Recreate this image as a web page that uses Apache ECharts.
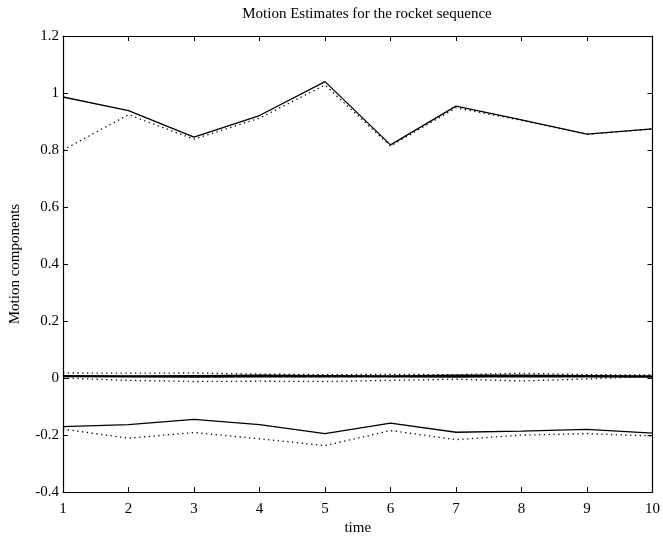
<!DOCTYPE html>
<html>
<head>
<meta charset="utf-8">
<script src="https://cdn.jsdelivr.net/npm/echarts@6/dist/echarts.min.js"></script>
<style>html,body{margin:0;padding:0;background:#fff;}#c{width:663px;height:541px;}</style>
</head>
<body>
<div id="c"></div>
<script>
var times = [1,2,3,4,5,6,7,8,9,10];
var topSolid  = [0.986,0.938,0.845,0.921,1.040,0.818,0.954,0.906,0.856,0.874];
var topDotted = [0.800,0.924,0.838,0.912,1.028,0.814,0.948,0.904,0.855,0.874];
var zeroSolidA = [0.006,0.005,0.004,0.005,0.006,0.005,0.004,0.006,0.005,0.004];
var zeroSolidB = [0.008,0.007,0.008,0.009,0.008,0.007,0.009,0.009,0.008,0.007];
var zeroDottedUp = [0.018,0.017,0.018,0.014,0.012,0.013,0.012,0.017,0.012,0.011];
var zeroDottedLow = [0.000,-0.008,-0.012,-0.011,-0.012,-0.008,-0.004,-0.010,-0.003,0.006];
var lowSolid  = [-0.170,-0.163,-0.145,-0.163,-0.195,-0.158,-0.190,-0.186,-0.180,-0.193];
var lowDotted = [-0.179,-0.211,-0.191,-0.213,-0.237,-0.184,-0.216,-0.200,-0.195,-0.203];
var yTicks = [-0.4,-0.2,0,0.2,0.4,0.6,0.8,1,1.2];

function pts(arr){ return times.map(function(t,i){ return [t, arr[i]]; }); }
function ser(arr, dotted, w){
  return {type:'line', data:pts(arr), symbol:'none', xAxisIndex:0, yAxisIndex:0,
    lineStyle:{color:'#000', width: w || 1.3, type: dotted?[1.3,3.5]:'solid'}, z: dotted?2:3, animation:false};
}
var font = 'Liberation Serif';
var chart = echarts.init(document.getElementById('c'));
chart.setOption({
  backgroundColor:'#fff',
  animation:false,
  title:{text:'Motion Estimates for the rocket sequence', left:362, top:2, textAlign:'center',
    textStyle:{fontFamily:font, fontSize:15, fontWeight:'normal', color:'#000'}},
  grid:{left:63, right:8, top:36, bottom:41},
  xAxis:[
    {type:'value', min:1, max:10, interval:1, position:'bottom',
     name:'time', nameLocation:'middle', nameGap:25,
     nameTextStyle:{fontFamily:font, fontSize:15, color:'#000'},
     axisLine:{onZero:false, lineStyle:{color:'#000', width:1.2}},
     axisTick:{inside:true, length:5, lineStyle:{color:'#000'}},
     axisLabel:{fontFamily:font, fontSize:15, color:'#000', margin:9},
     splitLine:{show:false}},
    {type:'value', min:1, max:10, interval:1, position:'top',
     axisLine:{onZero:false, lineStyle:{color:'#000', width:1.2}},
     axisTick:{inside:true, length:5, lineStyle:{color:'#000'}},
     axisLabel:{show:false}, splitLine:{show:false}}
  ],
  yAxis:[
    {type:'value', min:-0.4, max:1.2, interval:0.2, position:'left',
     name:'Motion components', nameLocation:'middle', nameGap:40,
     nameTextStyle:{fontFamily:font, fontSize:15, color:'#000'},
     axisLine:{onZero:false, lineStyle:{color:'#000', width:1.2}},
     axisTick:{inside:true, length:5, lineStyle:{color:'#000'}},
     axisLabel:{fontFamily:font, fontSize:15, color:'#000', margin:4,
       formatter:function(v){ var r=Math.round(v*10)/10; return String(r); }},
     splitLine:{show:false}},
    {type:'value', min:-0.4, max:1.2, interval:0.2, position:'right',
     axisLine:{onZero:false, lineStyle:{color:'#000', width:1.2}},
     axisTick:{inside:true, length:5, lineStyle:{color:'#000'}},
     axisLabel:{show:false}, splitLine:{show:false}}
  ],
  series:[
    ser(topDotted,true), ser(topSolid,false),
    ser(zeroDottedUp,true), ser(zeroDottedLow,true),
    ser(zeroSolidA,false,1.8), ser(zeroSolidB,false,1.8),
    ser(lowDotted,true), ser(lowSolid,false)
  ]
});
</script>
</body>
</html>
